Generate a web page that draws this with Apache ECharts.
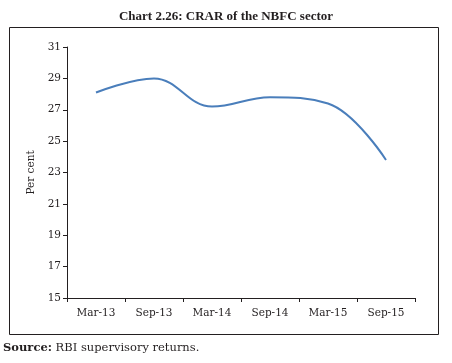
<!DOCTYPE html>
<html><head><meta charset="utf-8">
<script src="https://cdn.jsdelivr.net/npm/echarts@6/dist/echarts.min.js"></script>
<style>html,body{margin:0;padding:0;background:#fff}#c{width:452px;height:363px}</style>
</head><body><div id="c"></div>
<script>
const categories = ['Mar-13','Sep-13','Mar-14','Sep-14','Mar-15','Sep-15'];
const crar = [28.1, 29.0, 27.2, 27.8, 27.4, 23.8];
const yMin = 15, yMax = 31, yStep = 2;

const chart = echarts.init(document.getElementById('c'), null, {renderer:'canvas'});
const serif = '"Liberation Serif","DejaVu Serif",serif';
const wide = '"DejaVu Serif",serif';
chart.setOption({
  animation:false,
  backgroundColor:'#fff',
  title:{text:'Chart 2.26: CRAR of the NBFC sector',left:'center',top:5,
    textStyle:{fontFamily:serif,fontSize:13,fontWeight:'bold',color:'#231f20'}},
  graphic:[
    {type:'rect',shape:{x:9.5,y:27.5,width:429,height:307},style:{fill:'none',stroke:'#231f20',lineWidth:1}},
    {type:'text',left:3,top:342,style:{text:'{b|Source:} RBI supervisory returns.',rich:{b:{fontWeight:'bold',fontFamily:wide,fontSize:11.5,fill:'#231f20'}},fontFamily:wide,fontSize:11.5,fill:'#231f20'}}
  ],
  grid:{left:67,right:37,top:47,bottom:65},
  xAxis:{type:'category',data:categories,boundaryGap:true,
    axisLine:{lineStyle:{color:'#231f20',width:1}},
    axisTick:{show:true,length:4,lineStyle:{color:'#231f20'}},
    axisLabel:{fontFamily:wide,fontSize:10.5,color:'#231f20',margin:10}},
  yAxis:{type:'value',min:yMin,max:yMax,interval:yStep,
    name:'Per cent',nameLocation:'middle',nameGap:28,nameRotate:90,
    nameTextStyle:{fontFamily:wide,fontSize:10.5,color:'#231f20'},
    axisLine:{show:true,lineStyle:{color:'#231f20',width:1}},
    axisTick:{show:true,length:4,lineStyle:{color:'#231f20'}},
    splitLine:{show:false},
    axisLabel:{fontFamily:wide,fontSize:10.5,color:'#231f20',margin:6}},
  series:[{type:'line',data:crar,smooth:0.4,showSymbol:false,
    lineStyle:{color:'#4a7ebb',width:2}}]
});
</script></body></html>
